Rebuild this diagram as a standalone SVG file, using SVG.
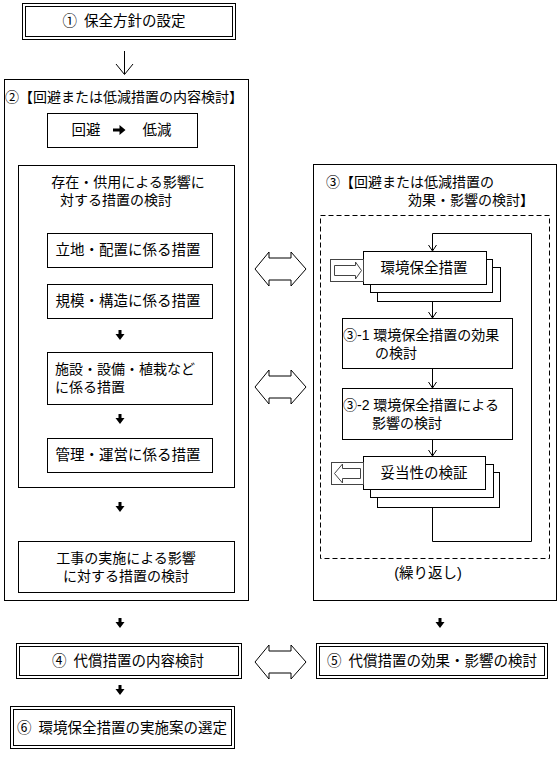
<svg xmlns="http://www.w3.org/2000/svg" xmlns:xlink="http://www.w3.org/1999/xlink" width="560" height="757" viewBox="0 0 560 757">
<style>
text{font-family:"Liberation Sans","Noto Sans CJK JP","Noto Sans CJK SC",sans-serif;font-size:14.5px;fill:#000;}
.c{text-anchor:middle;dominant-baseline:central;}
.l{text-anchor:start;dominant-baseline:central;}
.m{font-size:14px;}
.b{fill:#fff;stroke:#000;stroke-width:1;}
.n{fill:none;stroke:#000;stroke-width:1;}
.g{fill:#fff;stroke:#444;stroke-width:1;}
.d{fill:none;stroke:#000;stroke-width:1;stroke-dasharray:5 3;}
</style>
<defs>
<path id="dn" d="M-1.5,0 H1.5 V4 H4.5 L0,10 L-4.5,4 H-1.5 Z" fill="#000"/>
<path id="rt" d="M-6,-1.5 H0.5 V-5 L6.5,0 L0.5,5 V1.5 H-6 Z" fill="#000"/>
<path id="dbl" d="M0,0 L14,-17 V-11 H36 V-17 L51,0 L36,17 V11 H14 V17 Z" class="b"/>
<path id="vh" d="M-4,-6 L0,0 L4,-6" fill="none" stroke="#000" stroke-width="1"/>
</defs>

<g id="connectors">
<path d="M124.5,51 V74" class="n" stroke-width="1.8"/>
<path d="M116,64 L124.5,74.5 L133,64" class="n" stroke-width="1.8"/>
<use xlink:href="#dn" x="120" y="330"/>
<use xlink:href="#dn" x="120" y="414"/>
<use xlink:href="#dn" x="120" y="502"/>
<use xlink:href="#dn" x="120" y="618"/>
<use xlink:href="#dn" x="440" y="618"/>
<use xlink:href="#dn" x="120" y="685"/>
<use xlink:href="#dbl" x="255" y="269"/>
<use xlink:href="#dbl" x="255" y="387"/>
<use xlink:href="#dbl" x="255" y="662"/>
<path d="M432.5,507 V541.5 H531.5 V233.5 H432.5 V250" class="n"/>
<use xlink:href="#vh" x="432.5" y="251"/>
<path d="M432.5,301 V318" class="n"/>
<use xlink:href="#vh" x="432.5" y="318"/>
<path d="M432.5,368 V388" class="n"/>
<use xlink:href="#vh" x="432.5" y="388"/>
<path d="M432.5,439 V456" class="n"/>
<use xlink:href="#vh" x="432.5" y="456"/>
</g>

<g id="n1">
<rect x="22.5" y="3.5" width="213" height="36" class="b"/>
<rect x="25.5" y="6.5" width="207" height="30" class="n"/>
<text x="124" y="21" class="c">①&#8194;保全方針の設定</text>
</g>

<g id="n2">
<rect x="4.5" y="79.5" width="244" height="521" class="n"/>
<text x="5" y="97" class="l m">②【回避または低減措置の内容検討】</text>
</g>

<g id="n2a">
<rect x="47.5" y="113.5" width="150" height="34" class="b"/>
<text x="86" y="130" class="c">回避</text>
<use xlink:href="#rt" x="119" y="130"/>
<text x="157" y="130" class="c">低減</text>
</g>

<g id="n2b">
<rect x="18.5" y="165.5" width="216" height="322" class="n"/>
<text x="128" y="182" class="c m">存在・供用による影響に</text>
<text x="116" y="200" class="c m">対する措置の検討</text>
</g>

<g id="n2b1">
<rect x="47.5" y="233.5" width="165" height="34" class="b"/>
<text x="128" y="250" class="c">立地・配置に係る措置</text>
</g>
<g id="n2b2">
<rect x="47.5" y="284.5" width="165" height="34" class="b"/>
<text x="128" y="301" class="c">規模・構造に係る措置</text>
</g>
<g id="n2b3">
<rect x="47.5" y="352.5" width="165" height="52" class="b"/>
<text x="55" y="369" class="l m">施設・設備・植栽など</text>
<text x="55" y="387" class="l m">に係る措置</text>
</g>
<g id="n2b4">
<rect x="47.5" y="438.5" width="165" height="34" class="b"/>
<text x="128" y="455" class="c">管理・運営に係る措置</text>
</g>

<g id="n2c">
<rect x="18.5" y="541.5" width="216" height="51" class="b"/>
<text x="126" y="557.5" class="c m">工事の実施による影響</text>
<text x="126" y="575.5" class="c m">に対する措置の検討</text>
</g>

<g id="n3">
<rect x="313.5" y="164.5" width="243" height="436" class="n"/>
<text x="326" y="182" class="l m">③【回避または低減措置の</text>
<text x="408" y="200" class="l m">効果・影響の検討】</text>
<rect x="320.5" y="215.5" width="229" height="343" class="d"/>
<text x="428" y="573" class="c">(繰り返し)</text>
</g>

<g id="n3a">
<rect x="377.5" y="267.5" width="123" height="34" class="b"/>
<rect x="370.5" y="259.5" width="122" height="33" class="b"/>
<rect x="363.5" y="251.5" width="123" height="33" class="b"/>
<text x="424" y="268" class="c">環境保全措置</text>
<rect x="330.5" y="259.5" width="33" height="22" class="g"/>
<path d="M334.5,265.5 H355.5 V262 L361.5,270.5 L355.5,279 V275.5 H334.5 Z" class="g"/>
</g>

<g id="n3b">
<rect x="342.5" y="318.5" width="170" height="50" class="b"/>
<text x="343" y="335" class="l m">③-1 環境保全措置の効果</text>
<text x="375" y="353" class="l m">の検討</text>
</g>

<g id="n3c">
<rect x="342.5" y="388.5" width="170" height="51" class="b"/>
<text x="343" y="404.5" class="l m">③-2 環境保全措置による</text>
<text x="372" y="422.5" class="l m">影響の検討</text>
</g>

<g id="n3d">
<rect x="377.5" y="472.5" width="122" height="35" class="b"/>
<rect x="370.5" y="464.5" width="123" height="33" class="b"/>
<rect x="363.5" y="456.5" width="122" height="33" class="b"/>
<text x="424" y="473" class="c">妥当性の検証</text>
<rect x="331.5" y="462.5" width="32" height="22" class="g"/>
<path d="M360.5,468.5 H342.5 V464 L334.5,473.5 L342.5,483 V478.5 H360.5 Z" class="g"/>
</g>

<g id="n4">
<rect x="16.5" y="643.5" width="225" height="35" class="b"/>
<rect x="19.5" y="646.5" width="219" height="29" class="n"/>
<text x="128" y="661" class="c">④&#8194;代償措置の内容検討</text>
</g>

<g id="n5">
<rect x="316.5" y="643.5" width="231" height="35" class="b"/>
<rect x="319.5" y="646.5" width="225" height="29" class="n"/>
<text x="432" y="661" class="c">⑤&#8194;代償措置の効果・影響の検討</text>
</g>

<g id="n6">
<rect x="10.5" y="706.5" width="224" height="42" class="b"/>
<rect x="13.5" y="709.5" width="218" height="36" class="n"/>
<text x="122" y="728" class="c">⑥&#8194;環境保全措置の実施案の選定</text>
</g>
</svg>
